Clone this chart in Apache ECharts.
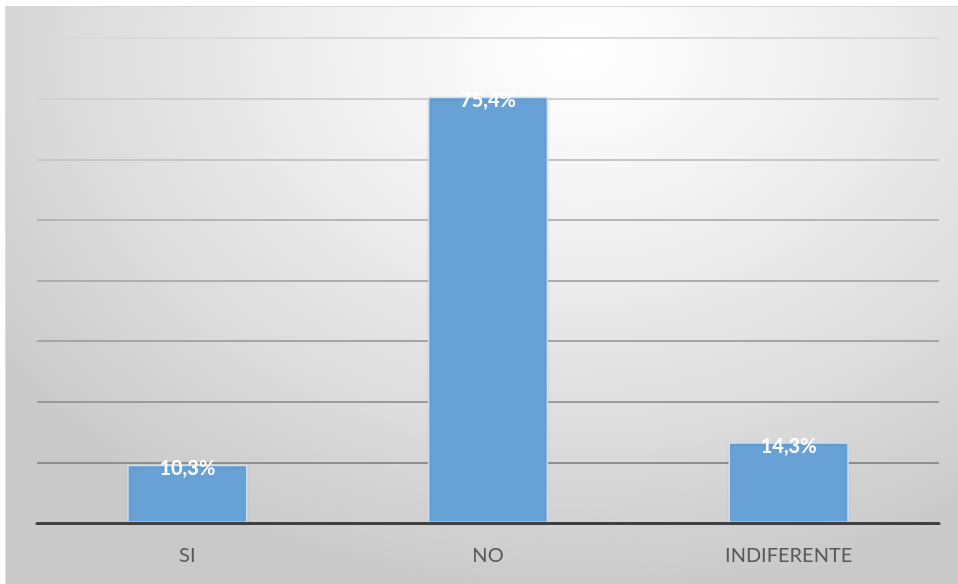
<!DOCTYPE html>
<html>
<head>
<meta charset="utf-8">
<script src="https://cdn.jsdelivr.net/npm/echarts@6/dist/echarts.min.js"></script>
<style>
  html, body { margin: 0; padding: 0; background: #ffffff; }
  #wrap { position: absolute; left: 5px; top: 6px; width: 953px; height: 578px;
    background: radial-gradient(ellipse 75% 95% at 60% 8%, #ffffff 0%, #f2f2f2 30%, #dcdcdc 70%, #c9c9c9 100%);
    border-top: 1px solid #d8d8d8; border-left: 1px solid #dcdcdc; box-sizing: border-box; }
  #chart { width: 953px; height: 578px; }
</style>
</head>
<body>
<div id="wrap"><div id="chart"></div></div>
<script>
const categories = ['SI', 'NO', 'INDIFERENTE'];
const values = [10.3, 75.4, 14.3];
const axisMax = 85.8;
const axisStep = 10.725;

const chart = echarts.init(document.getElementById('chart'), null, { renderer: 'canvas' });
chart.setOption({
  animation: false,
  backgroundColor: 'transparent',
  grid: { left: 31, right: 20, top: 31, bottom: 62 },
  xAxis: {
    type: 'category',
    data: categories,
    axisLine: { show: true, lineStyle: { color: '#404040', width: 3 } },
    axisTick: { show: false },
    axisLabel: { color: '#595959', fontSize: 20, fontFamily: 'Lato, "Open Sans", sans-serif', margin: 23 },
    z: 5
  },
  yAxis: {
    type: 'value',
    min: 0,
    max: axisMax,
    interval: axisStep,
    axisLine: { show: false },
    axisTick: { show: false },
    axisLabel: { show: false },
    splitLine: {
      show: true,
      lineStyle: {
        width: 2,
        color: ['#404040', '#8f8f8f', '#9a9a9a', '#a5a5a5', '#adadad', '#b6b6b6', '#c6c6c6', '#d0d0d0', '#dadada']
      }
    }
  },
  series: [{
    type: 'bar',
    data: values,
    barWidth: '40%',
    itemStyle: {
      color: '#67a1d6',
      borderColor: '#cfe2f3',
      borderWidth: 1.5,
      shadowColor: 'rgba(0,0,0,0.12)',
      shadowBlur: 3,
      shadowOffsetY: 1
    },
    label: {
      show: true,
      position: 'insideTop',
      distance: -6,
      color: '#ffffff',
      fontWeight: 'bold',
      fontSize: 20,
      fontFamily: 'Lato, "Open Sans", sans-serif',
      formatter: p => p.value.toFixed(1).replace('.', ',') + '%'
    },
    z: 3
  }]
});
</script>
</body>
</html>
